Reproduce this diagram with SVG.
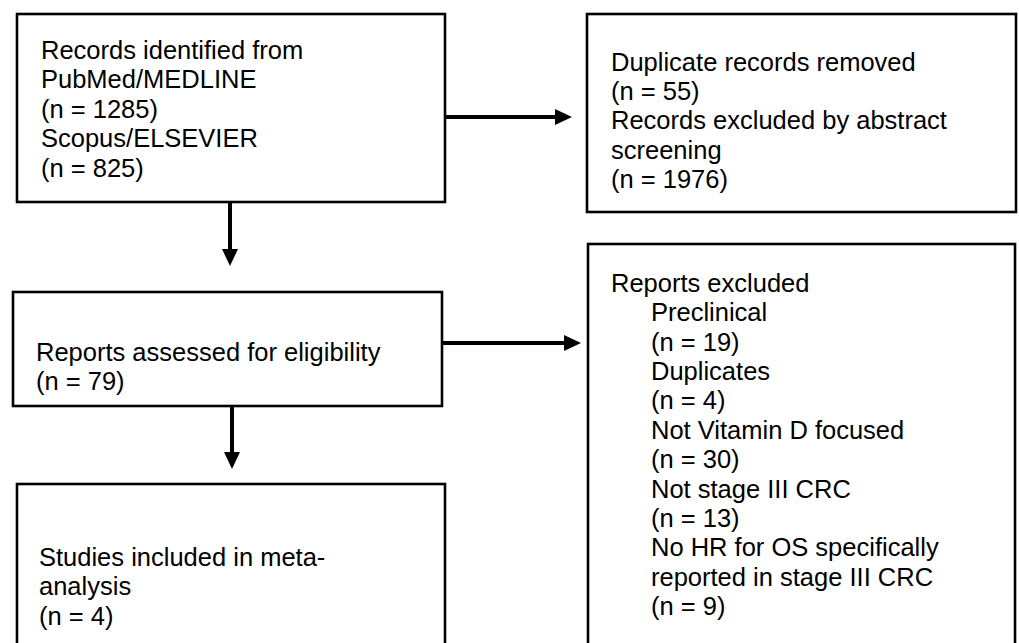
<svg xmlns="http://www.w3.org/2000/svg" width="1019" height="643" viewBox="0 0 1019 643">
  <style>
    .box { fill: #ffffff; stroke: #000000; stroke-width: 2.6; }
    .t { font-family: "Liberation Sans", Arial, sans-serif; font-size: 25.5px; fill: #000000; }
    .conn { stroke: #000000; stroke-width: 4; fill: none; }
  </style>
  <defs>
    <marker id="arrow" markerUnits="userSpaceOnUse" markerWidth="18" markerHeight="18" refX="0" refY="8" orient="auto" viewBox="0 0 18 16">
      <path d="M0,0 L17,8 L0,16 Z" fill="#000000"/>
    </marker>
  </defs>
  <rect width="1019" height="643" fill="#ffffff"/>

  <g id="connectors">
    <line class="conn" x1="446" y1="117" x2="555" y2="117" marker-end="url(#arrow)"/>
    <line class="conn" x1="230" y1="202" x2="230" y2="249" marker-end="url(#arrow)"/>
    <line class="conn" x1="443" y1="343" x2="564" y2="343" marker-end="url(#arrow)"/>
    <line class="conn" x1="232" y1="407" x2="232" y2="452" marker-end="url(#arrow)"/>
  </g>

  <g id="node-identified">
    <rect class="box" x="17" y="14" width="428" height="188"/>
    <text class="t" x="41" y="59">Records identified from</text>
    <text class="t" x="41" y="88.4">PubMed/MEDLINE</text>
    <text class="t" x="41" y="117.8">(n = 1285)</text>
    <text class="t" x="41" y="147.2">Scopus/ELSEVIER</text>
    <text class="t" x="41" y="176.6">(n = 825)</text>
  </g>

  <g id="node-removed">
    <rect class="box" x="587" y="14" width="429" height="198"/>
    <text class="t" x="611" y="70.5">Duplicate records removed</text>
    <text class="t" x="611" y="99.9">(n = 55)</text>
    <text class="t" x="611" y="129.3">Records excluded by abstract</text>
    <text class="t" x="611" y="158.7">screening</text>
    <text class="t" x="611" y="188.1">(n = 1976)</text>
  </g>

  <g id="node-assessed">
    <rect class="box" x="13" y="292" width="429" height="114"/>
    <text class="t" x="36" y="361">Reports assessed for eligibility</text>
    <text class="t" x="36" y="390.4">(n = 79)</text>
  </g>

  <g id="node-excluded">
    <rect class="box" x="588" y="244" width="427" height="410"/>
    <text class="t" x="611" y="291.7">Reports excluded</text>
    <text class="t" x="651" y="321.1">Preclinical</text>
    <text class="t" x="651" y="350.5">(n = 19)</text>
    <text class="t" x="651" y="379.9">Duplicates</text>
    <text class="t" x="651" y="409.3">(n = 4)</text>
    <text class="t" x="651" y="438.7">Not Vitamin D focused</text>
    <text class="t" x="651" y="468.1">(n = 30)</text>
    <text class="t" x="651" y="497.5">Not stage III CRC</text>
    <text class="t" x="651" y="526.9">(n = 13)</text>
    <text class="t" x="651" y="556.3">No HR for OS specifically</text>
    <text class="t" x="651" y="585.7">reported in stage III CRC</text>
    <text class="t" x="651" y="615.1">(n = 9)</text>
  </g>

  <g id="node-included">
    <rect class="box" x="17" y="484" width="428" height="170"/>
    <text class="t" x="39" y="566">Studies included in meta-</text>
    <text class="t" x="39" y="595.4">analysis</text>
    <text class="t" x="39" y="624.8">(n = 4)</text>
  </g>
</svg>
